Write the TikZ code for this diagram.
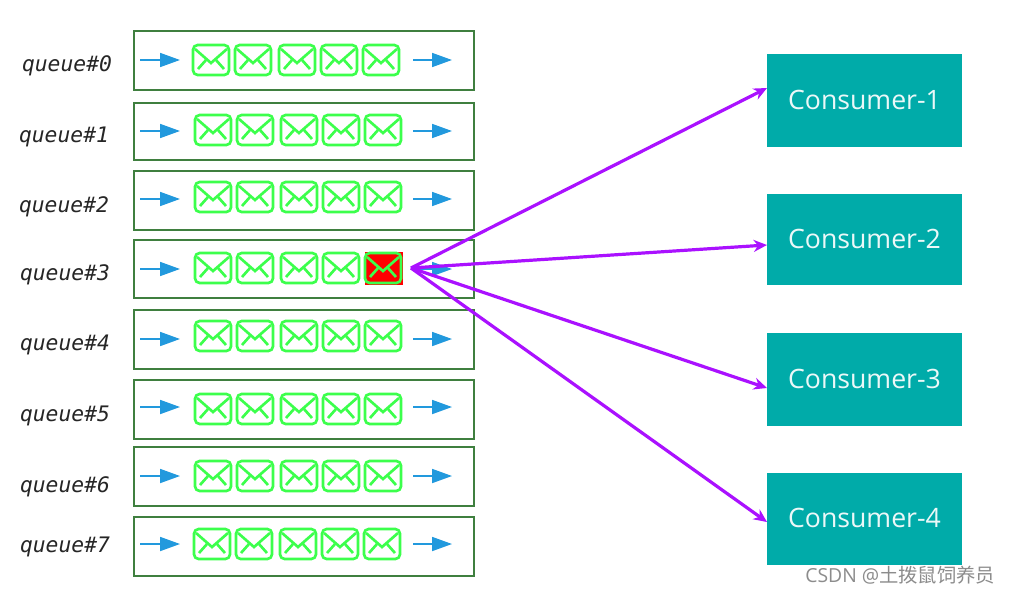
\documentclass[tikz,border=0pt]{standalone}
\usepackage{fontspec}
\setmainfont{Open Sans}
\newfontfamily\qfont{DejaVu Sans Mono}
\newfontfamily\cjkf{Noto Sans CJK SC}
\usetikzlibrary{arrows.meta,calc}
\definecolor{rowgreen}{HTML}{3F7F3F}
\definecolor{envgreen}{HTML}{3CFF4C}
\definecolor{flowblue}{HTML}{2299DD}
\definecolor{teal1}{HTML}{00ABA9}
\definecolor{purp}{HTML}{AA11FF}
\tikzset{
  x=0.75pt,y=-0.75pt,
  rowbox/.style={draw=rowgreen,line width=1.5pt,minimum width=255.4pt,inner sep=0pt,outer sep=0pt,anchor=north west},
  qlabel/.style={font=\qfont\itshape\fontsize{16}{18}\selectfont,text=black!85,inner sep=0pt},
  flow/.style={draw=flowblue,line width=1.3pt,-{Triangle[length=15pt,width=10.5pt]}},
  consumer/.style={fill=teal1,draw=none,minimum width=146.25pt,inner sep=0pt,outer sep=0pt,anchor=north west,text=white!92!teal1,font=\fontsize{20}{24}\selectfont},
  link/.style={draw=purp,line width=2.4pt,-{Stealth[length=10pt,width=9pt]}},
  envbody/.style={draw=envgreen,line width=2pt,rounded corners=3.5pt},
  envline/.style={draw=envgreen,line width=2pt},
  mail/.pic={
    \draw[envbody] (-18,-15) rectangle (18,15);
    \draw[envline] (-16,-11) -- (0,3) -- (16,-11);
    \draw[envline] (-13,9) -- (-5,0);
    \draw[envline] (13,9) -- (5,0);
  },
}
\begin{document}
\begin{tikzpicture}
\useasboundingbox (0,0) rectangle (1011,594);
\fill[white] (0,0) rectangle (1011,594);
\foreach \i/\lx/\ly/\bt/\bh/\ey/\ex/\ay in {
  0/67/66/30/60/60/-2/60,
  1/64/137/102/58/130/0/131,
  2/64/207/170/60/197/0/199,
  3/65/275/239/59/268/0/269,
  4/65/345/309/60/336/0/339,
  5/65/416/379/60/409/0/407,
  6/65/487/446/60/476/0/476,
  7/65/547/516/60/544/-1/544}{
  \node[rowbox,minimum height=\bh*0.75pt-0.75pt] (row\i) at (133.5,\bt.5) {};
  \node[qlabel] (q\i) at (\lx,\ly) {queue\#\i};
  \coordinate (ai\i) at (140,\ay);
  \coordinate (ao\i) at (180,\ay);
  \coordinate (bi\i) at (413,\ay);
  \coordinate (bo\i) at (452,\ay);
  \draw[flow] (ai\i) -- (ao\i);
  \draw[flow] (bi\i) -- (bo\i);
  \foreach \mx in {213,255,299,341}{
    \pic at ({\mx+\ex},\ey) {mail};
  }
  \ifnum\i=3
    \fill[red] (365,252) rectangle (403,285);
    \pic at (383,\ey) {mail};
  \else
    \pic at ({383+\ex},\ey) {mail};
  \fi
}
\node[consumer,minimum height=69.75pt,text depth=0pt] (c1) at (767,54) {\raisebox{1.4pt}{Consumer-1}\hspace{1.5pt}};
\node[consumer,minimum height=68.25pt] (c2) at (767,194) {\raisebox{1.4pt}{Consumer-2}\hspace{1.5pt}};
\node[consumer,minimum height=69.75pt] (c3) at (767,333) {\raisebox{1.4pt}{Consumer-3}\hspace{1.5pt}};
\node[consumer,minimum height=69pt] (c4) at (767,473) {\raisebox{1.4pt}{Consumer-4}\hspace{1.5pt}};
\coordinate (src) at (411,268);
\coordinate (t1) at (767,88);
\coordinate (t2) at (767,245);
\coordinate (t3) at (767,388);
\coordinate (t4) at (767,522);
\foreach \k in {1,2,3,4}{\draw[link] (src) -- (t\k);}
\node[inner sep=0pt,anchor=east,text=black!45,font=\fontsize{14.5}{16}\selectfont] (wm) at (995.5,575) {CSDN @{\cjkf 土拨鼠饲养员}};
\end{tikzpicture}
\end{document}
